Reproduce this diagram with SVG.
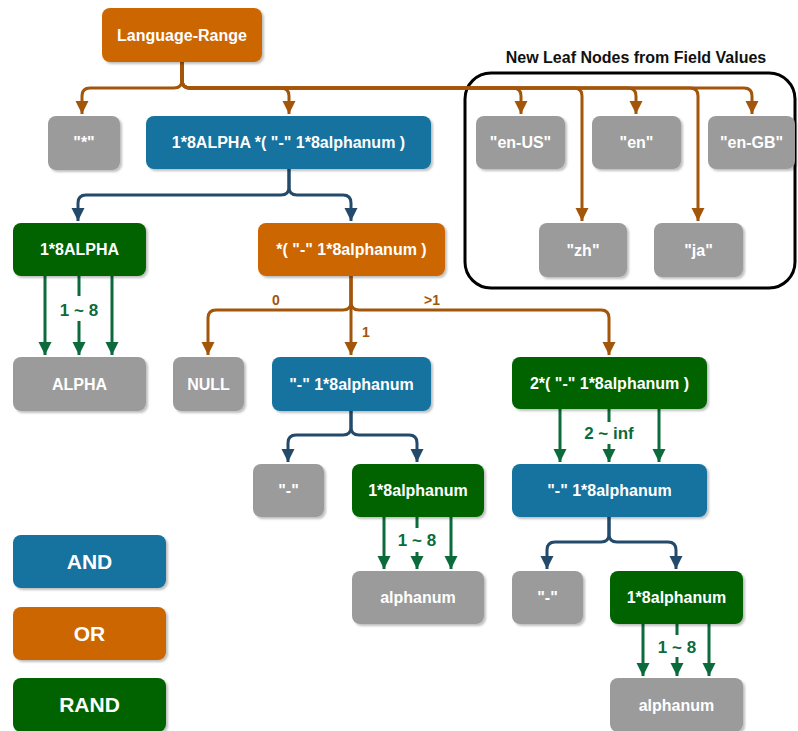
<svg xmlns="http://www.w3.org/2000/svg" width="798" height="731" viewBox="0 0 798 731">
  <defs>
    <filter id="shadow" x="-10%" y="-10%" width="130%" height="140%">
      <feDropShadow dx="2" dy="2" stdDeviation="1" flood-color="#000" flood-opacity="0.25"/>
    </filter>
    <marker id="arrow-or" markerUnits="userSpaceOnUse" markerWidth="13" markerHeight="14" viewBox="0 -7 13 14" refX="13" refY="0" orient="auto">
      <path d="M0,-6.5 L13,0 L0,6.5 z" fill="#A3550A"/>
    </marker>
    <marker id="arrow-and" markerUnits="userSpaceOnUse" markerWidth="13" markerHeight="14" viewBox="0 -7 13 14" refX="13" refY="0" orient="auto">
      <path d="M0,-6.5 L13,0 L0,6.5 z" fill="#244A6B"/>
    </marker>
    <marker id="arrow-rand" markerUnits="userSpaceOnUse" markerWidth="13" markerHeight="14" viewBox="0 -7 13 14" refX="13" refY="0" orient="auto">
      <path d="M0,-6.5 L13,0 L0,6.5 z" fill="#0B6B3A"/>
    </marker>
  </defs>
  <style>
    text { font-family: "Liberation Sans", Arial, sans-serif; font-weight: bold; }
    .node rect { filter: url(#shadow); }
    .node text { fill: #fff; font-size: 16px; text-anchor: middle; }
    .and rect { fill: #13729F; }
    .or rect { fill: #CC6600; }
    .rand rect { fill: #006400; }
    .leaf rect { fill: #9B9B9B; }
    .legend text { font-size: 21px; }
    .edge { fill: none; stroke-width: 3; }
    .e-or { stroke: #A3550A; }
    .e-and { stroke: #244A6B; }
    .e-rand { stroke: #0B6B3A; }
    .lbl-or { fill: #A3550A; font-size: 14px; text-anchor: middle; }
    .lbl-rand { fill: #0B6B3A; font-size: 17px; text-anchor: middle; }
  </style>

  <!-- group of leaf values taken from field data -->
  <g id="field-values">
    <rect x="465" y="73" width="330" height="215" rx="26" fill="none" stroke="#000" stroke-width="3"/>
    <text x="636" y="63" font-size="16" text-anchor="middle" fill="#111">New Leaf Nodes from Field Values</text>
  </g>

  <g id="connectors">
    <!-- Language-Range alternatives -->
    <path class="edge e-or" marker-end="url(#arrow-or)" d="M182,62 V80 Q182,88 174,88 H90 Q82,88 82,96 V114"/>
    <path class="edge e-or" marker-end="url(#arrow-or)" d="M182,62 V80 Q182,88 190,88 H281 Q289,88 289,96 V114"/>
    <path class="edge e-or" marker-end="url(#arrow-or)" d="M182,62 V80 Q182,88 190,88 H513 Q521,88 521,96 V114"/>
    <path class="edge e-or" marker-end="url(#arrow-or)" d="M182,62 V80 Q182,88 190,88 H574 Q582,88 582,96 V221"/>
    <path class="edge e-or" marker-end="url(#arrow-or)" d="M182,62 V80 Q182,88 190,88 H628 Q636,88 636,96 V114"/>
    <path class="edge e-or" marker-end="url(#arrow-or)" d="M182,62 V80 Q182,88 190,88 H690 Q698,88 698,96 V221"/>
    <path class="edge e-or" marker-end="url(#arrow-or)" d="M182,62 V80 Q182,88 190,88 H744 Q752,88 752,96 V114"/>

    <!-- 1*8ALPHA *( "-" 1*8alphanum ) sequence -->
    <path class="edge e-and" marker-end="url(#arrow-and)" d="M289,169 V187 Q289,195 281,195 H86 Q78,195 78,203 V221"/>
    <path class="edge e-and" marker-end="url(#arrow-and)" d="M289,169 V187 Q289,195 297,195 H343 Q351,195 351,203 V221"/>

    <!-- 1*8ALPHA repetition -->
    <path class="edge e-rand" marker-end="url(#arrow-rand)" d="M45,276 V355"/>
    <path class="edge e-rand" d="M79,276 V296"/>
    <path class="edge e-rand" marker-end="url(#arrow-rand)" d="M79,321 V355"/>
    <path class="edge e-rand" marker-end="url(#arrow-rand)" d="M112,276 V355"/>

    <!-- *( "-" 1*8alphanum ) count choices -->
    <path class="edge e-or" marker-end="url(#arrow-or)" d="M351,276 V302 Q351,310 343,310 H216 Q208,310 208,318 V355"/>
    <path class="edge e-or" marker-end="url(#arrow-or)" d="M351,276 V355"/>
    <path class="edge e-or" marker-end="url(#arrow-or)" d="M351,276 V302 Q351,310 359,310 H601 Q609,310 609,318 V355"/>

    <!-- single "-" 1*8alphanum -->
    <path class="edge e-and" marker-end="url(#arrow-and)" d="M351,411 V427 Q351,435 343,435 H296 Q288,435 288,443 V462"/>
    <path class="edge e-and" marker-end="url(#arrow-and)" d="M351,411 V427 Q351,435 359,435 H409 Q417,435 417,443 V462"/>
    <path class="edge e-rand" marker-end="url(#arrow-rand)" d="M384,517 V569"/>
    <path class="edge e-rand" d="M417,517 V528"/>
    <path class="edge e-rand" marker-end="url(#arrow-rand)" d="M417,552 V569"/>
    <path class="edge e-rand" marker-end="url(#arrow-rand)" d="M451,517 V569"/>

    <!-- 2*( "-" 1*8alphanum ) repetition -->
    <path class="edge e-rand" marker-end="url(#arrow-rand)" d="M560,409 V462"/>
    <path class="edge e-rand" d="M609,409 V422"/>
    <path class="edge e-rand" marker-end="url(#arrow-rand)" d="M609,444 V462"/>
    <path class="edge e-rand" marker-end="url(#arrow-rand)" d="M659,409 V462"/>

    <!-- repeated "-" 1*8alphanum -->
    <path class="edge e-and" marker-end="url(#arrow-and)" d="M609,517 V534 Q609,542 601,542 H555 Q547,542 547,550 V569"/>
    <path class="edge e-and" marker-end="url(#arrow-and)" d="M609,517 V534 Q609,542 617,542 H668 Q676,542 676,550 V569"/>
    <path class="edge e-rand" marker-end="url(#arrow-rand)" d="M643,624 V676"/>
    <path class="edge e-rand" d="M677,624 V635"/>
    <path class="edge e-rand" marker-end="url(#arrow-rand)" d="M677,657 V676"/>
    <path class="edge e-rand" marker-end="url(#arrow-rand)" d="M709,624 V676"/>

    <!-- edge labels -->
    <text class="lbl-rand" x="79" y="316">1 ~ 8</text>
    <text class="lbl-or" x="276" y="305">0</text>
    <text class="lbl-or" x="366" y="337">1</text>
    <text class="lbl-or" x="432" y="305">&gt;1</text>
    <text class="lbl-rand" x="609" y="439">2 ~ inf</text>
    <text class="lbl-rand" x="417" y="546">1 ~ 8</text>
    <text class="lbl-rand" x="677" y="653">1 ~ 8</text>
  </g>

  <g id="language-range" class="node or">
    <rect x="102" y="8" width="160" height="54" rx="8"/>
    <text x="182" y="41">Language-Range</text>
  </g>
  <g id="star" class="node leaf">
    <rect x="48" y="116" width="72" height="54" rx="8"/>
    <text x="84" y="148">"*"</text>
  </g>
  <g id="tag-seq" class="node and">
    <rect x="146" y="116" width="285" height="53" rx="8"/>
    <text x="288.5" y="148">1*8ALPHA *( "-" 1*8alphanum )</text>
  </g>
  <g id="en-us" class="node leaf">
    <rect x="476" y="116" width="89" height="53" rx="8"/>
    <text x="520.5" y="148">"en-US"</text>
  </g>
  <g id="en" class="node leaf">
    <rect x="592" y="116" width="89" height="53" rx="8"/>
    <text x="636.5" y="148">"en"</text>
  </g>
  <g id="en-gb" class="node leaf">
    <rect x="708" y="116" width="87" height="53" rx="8"/>
    <text x="751.5" y="148">"en-GB"</text>
  </g>
  <g id="zh" class="node leaf">
    <rect x="539" y="223" width="88" height="54" rx="8"/>
    <text x="583" y="256">"zh"</text>
  </g>
  <g id="ja" class="node leaf">
    <rect x="654" y="223" width="89" height="54" rx="8"/>
    <text x="698.5" y="256">"ja"</text>
  </g>
  <g id="primary-alpha" class="node rand">
    <rect x="13" y="223" width="133" height="53" rx="8"/>
    <text x="79.5" y="255">1*8ALPHA</text>
  </g>
  <g id="subtags" class="node or">
    <rect x="258" y="223" width="187" height="53" rx="8"/>
    <text x="351.5" y="255">*( "-" 1*8alphanum )</text>
  </g>
  <g id="alpha" class="node leaf">
    <rect x="13" y="357" width="133" height="54" rx="8"/>
    <text x="79.5" y="390">ALPHA</text>
  </g>
  <g id="null" class="node leaf">
    <rect x="173" y="357" width="71" height="54" rx="8"/>
    <text x="208.5" y="390">NULL</text>
  </g>
  <g id="one-subtag" class="node and">
    <rect x="272" y="357" width="159" height="54" rx="8"/>
    <text x="351.5" y="390">"-" 1*8alphanum</text>
  </g>
  <g id="many-subtags" class="node rand">
    <rect x="512" y="357" width="195" height="52" rx="8"/>
    <text x="609.5" y="389">2*( "-" 1*8alphanum )</text>
  </g>
  <g id="dash-1" class="node leaf">
    <rect x="253" y="464" width="71" height="53" rx="8"/>
    <text x="288.5" y="496">"-"</text>
  </g>
  <g id="alnum-rep-1" class="node rand">
    <rect x="352" y="464" width="132" height="53" rx="8"/>
    <text x="418" y="496">1*8alphanum</text>
  </g>
  <g id="subtag-item" class="node and">
    <rect x="512" y="464" width="195" height="53" rx="8"/>
    <text x="609.5" y="496">"-" 1*8alphanum</text>
  </g>
  <g id="alphanum-1" class="node leaf">
    <rect x="352" y="571" width="132" height="53" rx="8"/>
    <text x="418" y="603">alphanum</text>
  </g>
  <g id="dash-2" class="node leaf">
    <rect x="512" y="571" width="71" height="53" rx="8"/>
    <text x="547.5" y="603">"-"</text>
  </g>
  <g id="alnum-rep-2" class="node rand">
    <rect x="610" y="571" width="133" height="53" rx="8"/>
    <text x="676.5" y="603">1*8alphanum</text>
  </g>
  <g id="alphanum-2" class="node leaf">
    <rect x="610" y="678" width="133" height="54" rx="8"/>
    <text x="676.5" y="711">alphanum</text>
  </g>

  <!-- legend -->
  <g id="legend-and" class="node and legend">
    <rect x="13" y="535" width="153" height="53" rx="8"/>
    <text x="89.5" y="569">AND</text>
  </g>
  <g id="legend-or" class="node or legend">
    <rect x="13" y="607" width="153" height="53" rx="8"/>
    <text x="89.5" y="641">OR</text>
  </g>
  <g id="legend-rand" class="node rand legend">
    <rect x="13" y="678" width="153" height="54" rx="8"/>
    <text x="89.5" y="712">RAND</text>
  </g>
</svg>
